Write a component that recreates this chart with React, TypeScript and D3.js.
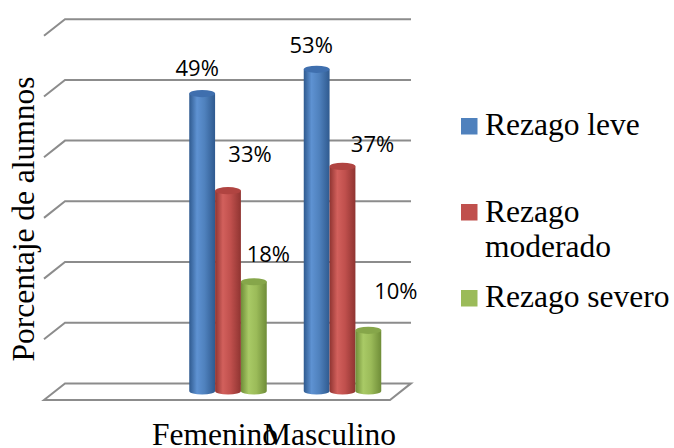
import React from "react";
import * as d3 from "d3";

const categories = ["Femenino", "Masculino"];
const seriesNames = ["Rezago leve", "Rezago moderado", "Rezago severo"];
const rezagoLeve = [49, 53];
const rezagoModerado = [33, 37];
const rezagoSevero = [18, 10];
const yTicks = [0, 10, 20, 30, 40, 50, 60];

// layout-only tweaks for data-label placement [dx, dy] per series, per category
const labelOffsets = [
  [[-5, -17.6], [-5.5, -16.3]],
  [[22, -28.7], [30, -14.4]],
  [[14.5, -20], [27.5, -31.3]],
];

const seriesValues = [rezagoLeve, rezagoModerado, rezagoSevero];
const colors = [
  { base: "#4F81BD", dark: "#2f5a8f", light: "#5e92d2", top: "#3f6fae" },
  { base: "#C0504D", dark: "#8f3431", light: "#d2605c", top: "#b04441" },
  { base: "#9BBB59", dark: "#6f8d38", light: "#a9ca66", top: "#86a64a" },
];

const W = 674;
const H = 448;
const baseY = 391;
const backDy = -7.6;
const frontDy = 9;
const backLeft = 65;
const frontLeft = 44;
const backRight = 411;
const frontRight = 390;

export default function App() {
  const y = d3.scaleLinear().domain([0, 60]).range([baseY, baseY - 6 * 60.7]);
  const x = d3.scaleBand<string>().domain(categories).range([170.75, 399.75]).paddingInner(0).paddingOuter(0);
  const xs = d3.scaleBand<string>().domain(seriesNames).range([-38.75, 38.75]).padding(0);
  const bw = xs.bandwidth();
  const ry = 3.6;
  const serif = "'Liberation Serif', 'Times New Roman', serif";
  const sans = "'Open Sans', 'Liberation Sans', sans-serif";

  const gridLines = yTicks.map((t) => {
    const by = y(t) + backDy;
    const fy = y(0) + frontDy + (y(t) - y(0));
    return { t, by, fy };
  });

  const floorBack = y(0) + backDy;
  const floorFront = y(0) + frontDy;

  return (
    <svg width={W} height={H} style={{ position: "absolute", left: 0, top: 0, background: "#fff" }}>
      <defs>
        {colors.map((c, i) => (
          <linearGradient key={i} id={`grad${i}`} x1="0" x2="1" y1="0" y2="0">
            <stop offset="0%" stopColor={c.dark} />
            <stop offset="30%" stopColor={c.light} />
            <stop offset="60%" stopColor={c.base} />
            <stop offset="100%" stopColor={c.dark} />
          </linearGradient>
        ))}
      </defs>
      {/* gridlines: left wall diagonal + back wall horizontal */}
      {gridLines.map((g) =>
        g.t === 0 ? null : (
          <path
            key={g.t}
            d={`M${frontLeft},${g.by + (frontDy - backDy)} L${backLeft},${g.by} L${backRight},${g.by}`}
            fill="none"
            stroke="#8c8c8c"
            strokeWidth={2}
          />
        )
      )}
      {/* floor */}
      <path
        d={`M${frontLeft},${floorFront} L${backLeft},${floorBack} L${backRight},${floorBack} L${frontRight},${floorFront} Z`}
        fill="#fff"
        stroke="#8c8c8c"
        strokeWidth={2}
      />
      {/* bars (cylinders) */}
      {categories.map((cat, ci) =>
        seriesNames.map((s, si) => {
          const v = seriesValues[si][ci];
          const cx = (x(cat) as number) + x.bandwidth() / 2 + (xs(s) as number) + bw / 2;
          const top = y(v);
          const bot = y(0);
          const rx = bw / 2;
          return (
            <g key={`${cat}-${s}`}>
              <path
                d={`M${cx - rx},${top} L${cx - rx},${bot} A${rx},${ry} 0 0 0 ${cx + rx},${bot} L${cx + rx},${top} Z`}
                fill={`url(#grad${si})`}
              />
              <ellipse cx={cx} cy={top} rx={rx} ry={ry} fill={colors[si].top} />
            </g>
          );
        })
      )}
      {/* data labels */}
      {categories.map((cat, ci) =>
        seriesNames.map((s, si) => {
          const v = seriesValues[si][ci];
          const cx = (x(cat) as number) + x.bandwidth() / 2 + (xs(s) as number) + bw / 2;
          const [dx, dy] = labelOffsets[si][ci];
          return (
            <text
              key={`l-${cat}-${s}`}
              x={cx + dx}
              y={y(v) + dy}
              textAnchor="middle"
              fontFamily={sans}
              fontSize={22}
              fill="#000"
            >
              {`${v}%`}
            </text>
          );
        })
      )}
      {/* category labels */}
      {categories.map((cat) => (
        <text
          key={`c-${cat}`}
          x={(x(cat) as number) + x.bandwidth() / 2 - 13}
          y={445}
          textAnchor="middle"
          fontFamily={serif}
          fontSize={31.5}
          fill="#000"
        >
          {cat}
        </text>
      ))}
      {/* y axis title */}
      <text
        transform={`translate(34,219) rotate(-90)`}
        textAnchor="middle"
        fontFamily={serif}
        fontSize={31.5}
        fill="#000"
      >
        Porcentaje de alumnos
      </text>
      {/* legend */}
      {[
        { lines: ["Rezago leve"], sy: 118, ty: 135 },
        { lines: ["Rezago", "moderado"], sy: 204, ty: 221.5 },
        { lines: ["Rezago severo"], sy: 290, ty: 306.5 },
      ].map((item, i) => (
        <g key={`lg-${i}`}>
          <rect x={461} y={item.sy} width={16.5} height={16.5} fill={colors[i].base} />
          <text x={485} y={item.ty} fontFamily={serif} fontSize={31.5} fill="#000">
            {item.lines.map((ln, k) => (
              <tspan key={k} x={485} dy={k === 0 ? 0 : 35}>
                {ln}
              </tspan>
            ))}
          </text>
        </g>
      ))}
    </svg>
  );
}
